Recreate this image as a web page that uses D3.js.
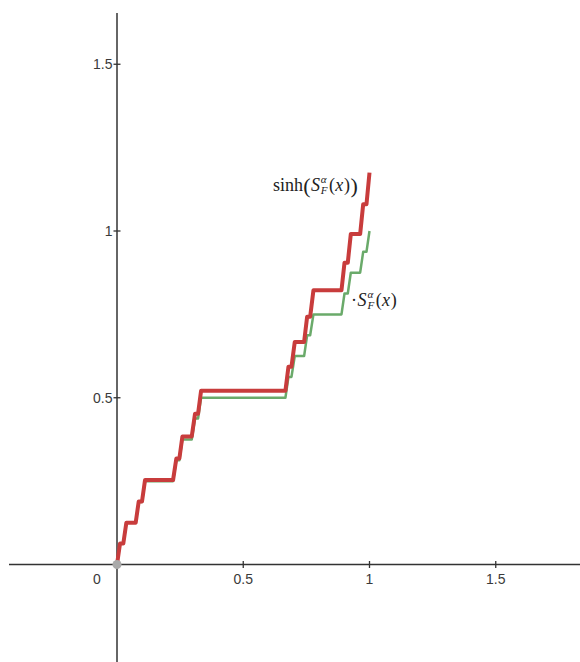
<!DOCTYPE html>
<html>
<head>
<meta charset="utf-8">
<script src="https://cdn.jsdelivr.net/npm/d3@7"></script>
<style>
  body { margin: 0; background: #fff; }
  svg { display: block; }
  .tick-label { font-family: "Liberation Sans", Arial, sans-serif; font-size: 14px; fill: #3a3a3a; }
  .math { font-family: "Liberation Serif", "DejaVu Serif", serif; fill: #222; }
</style>
</head>
<body>
<div id="chart"></div>
<script>
// staircase: flat pieces [start, end] at each level
const stepStart  = [0, 0.012, 0.037, 0.086, 0.111, 0.235, 0.259, 0.309, 0.333, 0.679, 0.704, 0.753, 0.778, 0.901, 0.926, 0.975, 1]
const stepEnd    = [0, 0.025, 0.074, 0.099, 0.222, 0.247, 0.296, 0.321, 0.667, 0.691, 0.741, 0.765, 0.889, 0.914, 0.963, 0.988, 1]
const greenLevel = [0, 0.0625, 0.125, 0.1875, 0.25, 0.3125, 0.375, 0.4375, 0.5, 0.5625, 0.625, 0.6875, 0.75, 0.8125, 0.875, 0.9375, 1]
const redLevel   = [0, 0.063, 0.125, 0.189, 0.253, 0.318, 0.384, 0.452, 0.521, 0.593, 0.667, 0.743, 0.822, 0.905, 0.991, 1.080, 1.175]

const xTicks = [0.5, 1, 1.5]
const yTicks = [0.5, 1, 1.5]

const WIDTH = 580, HEIGHT = 662

const x = d3.scaleLinear().domain([0, 1]).range([117, 369.5])
const y = d3.scaleLinear().domain([0, 1]).range([564.5, 231])

const svg = d3.select("#chart").append("svg")
    .attr("width", WIDTH)
    .attr("height", HEIGHT)

/* AXES */
const axisColor = "#333"
svg.append("line")
    .attr("x1", 9).attr("x2", WIDTH)
    .attr("y1", y(0)).attr("y2", y(0))
    .style("stroke", axisColor).style("stroke-width", 1.5)
svg.append("line")
    .attr("x1", x(0)).attr("x2", x(0))
    .attr("y1", 13).attr("y2", HEIGHT)
    .style("stroke", axisColor).style("stroke-width", 1.5)

svg.selectAll(".xtick").data(xTicks).enter().append("line")
    .attr("class", "xtick")
    .attr("x1", d => x(d)).attr("x2", d => x(d))
    .attr("y1", y(0) - 3.5).attr("y2", y(0) + 3.5)
    .style("stroke", axisColor).style("stroke-width", 1.3)
svg.selectAll(".ytick").data(yTicks).enter().append("line")
    .attr("class", "ytick")
    .attr("y1", d => y(d)).attr("y2", d => y(d))
    .attr("x1", x(0) - 3.5).attr("x2", x(0) + 3.5)
    .style("stroke", axisColor).style("stroke-width", 1.3)

svg.selectAll(".xlab").data(xTicks).enter().append("text")
    .attr("class", "tick-label")
    .attr("x", d => x(d)).attr("y", 583.5)
    .attr("text-anchor", "middle")
    .text(d => d)
svg.selectAll(".ylab").data(yTicks).enter().append("text")
    .attr("class", "tick-label")
    .attr("x", x(0) - 4.5).attr("y", d => y(d) + 5)
    .attr("text-anchor", "end")
    .text(d => d)
svg.append("text")
    .attr("class", "tick-label")
    .attr("x", 97).attr("y", 583.5)
    .attr("text-anchor", "middle")
    .text("0")

/* CURVES */
function stairPoints(levels) {
    const pts = []
    levels.forEach((v, i) => {
        pts.push([stepStart[i], v])
        if (stepEnd[i] !== stepStart[i]) pts.push([stepEnd[i], v])
    })
    return pts
}

const line = d3.line().x(d => x(d[0])).y(d => y(d[1]))

svg.append("path")
    .datum(stairPoints(greenLevel))
    .attr("d", line)
    .style("fill", "none")
    .style("stroke", "#6aaa6a")
    .style("stroke-width", 2.5)
    .style("stroke-linejoin", "round")

svg.append("path")
    .datum(stairPoints(redLevel))
    .attr("d", line)
    .style("fill", "none")
    .style("stroke", "#c83c3c")
    .style("stroke-width", 4)
    .style("stroke-linejoin", "round")

svg.append("circle")
    .attr("cx", x(0)).attr("cy", y(0))
    .attr("r", 4.5)
    .style("fill", "#aaa")

/* LABELS */
// pieces: [text, italic, size, kind] ; kind: "n" normal, "sup"/"sub" stacked scripts
// one <text> per label, each piece a tspan placed at a measured x
function mathLabel(x0, base, pieces) {
    const measure = svg.append("text").attr("class", "math")
    const widthOf = (txt, it, size) => {
        measure.style("font-size", size + "px")
            .style("font-style", it ? "italic" : "normal")
            .text(txt)
        return measure.node().getComputedTextLength()
    }
    const label = svg.append("text").attr("class", "math")
    let cx = x0
    let scriptStart = null, scriptW = 0
    pieces.forEach(p => {
        const [txt, it, size, kind] = p
        const w = widthOf(txt, it, size)
        const startX = kind === "sub" && scriptStart !== null ? scriptStart : cx
        label.append("tspan")
            .attr("x", startX)
            .attr("y", base + (kind === "sup" ? -8.5 : kind === "sub" ? 3 : size > 19 ? 1.5 : 0))
            .style("font-size", size + "px")
            .style("font-style", it ? "italic" : "normal")
            .text(txt)
        if (kind === "sup") {
            scriptStart = cx
            scriptW = w
        } else if (kind === "sub") {
            cx = scriptStart + Math.max(scriptW, w) + 1.5
            scriptStart = null
        } else {
            cx += w + (it ? 0.8 : 0.3)
        }
    })
    measure.remove()
}

mathLabel(273, 191, [
    ["sinh", false, 18, "n"],
    ["(", false, 22, "n"],
    ["S", true, 18, "n"],
    ["α", true, 11, "sup"],
    ["F", true, 11, "sub"],
    ["(", false, 18, "n"],
    ["x", true, 18, "n"],
    [")", false, 18, "n"],
    [")", false, 22, "n"]
])

mathLabel(351, 306, [
    ["·", false, 18, "n"],
    [" ", false, 7, "n"],
    ["S", true, 18, "n"],
    ["α", true, 11, "sup"],
    ["F", true, 11, "sub"],
    ["(", false, 18, "n"],
    ["x", true, 18, "n"],
    [")", false, 18, "n"]
])
</script>
</body>
</html>
